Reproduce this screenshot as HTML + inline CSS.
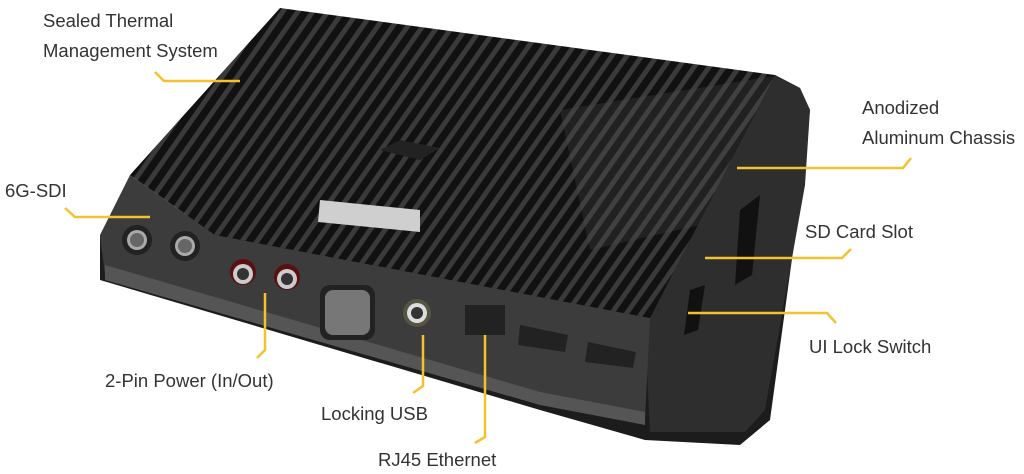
<!DOCTYPE html>
<html><head><style>
html,body{margin:0;padding:0;background:#fff;width:1024px;height:474px;overflow:hidden}
svg{display:block}
text{font-family:"Liberation Sans",sans-serif;font-size:18.5px;fill:#333}
</style></head><body>
<svg width="1024" height="474" viewBox="0 0 1024 474">
<defs>
<pattern id="fins" patternUnits="userSpaceOnUse" width="15" height="474" patternTransform="skewX(-35)">
<rect width="15" height="474" fill="#111"/>
<rect x="3" width="6" height="474" fill="#3a3a3a"/>
</pattern>
<clipPath id="topc"><polygon points="280,8 775,75 650,318 215,235 130,175"/></clipPath>
</defs>
<polygon points="100,235 100,280 540,410 645,440 740,445 770,420 800,200 810,110 800,88 775,75" fill="#1c1c1c"/>
<polygon points="775,75 800,88 810,110 805,185 765,410 745,432 650,432 645,330 650,318" fill="#2e2e2e"/>
<polygon points="740,210 760,195 752,275 735,285" fill="#111"/>
<polygon points="690,290 705,285 698,330 684,335" fill="#111"/>
<polygon points="130,175 215,235 650,318 645,420 540,400 105,275 100,235" fill="#3c3c3c"/>
<polygon points="105,265 540,392 645,412 645,425 540,405 105,280" fill="#555"/>
<g clip-path="url(#topc)"><rect x="0" y="0" width="1024" height="474" fill="url(#fins)"/>
<polygon points="560,110 780,75 700,225 590,250" fill="#555" opacity="0.25"/></g>
<polygon points="380,150 400,140 440,148 420,160" fill="#222"/>
<polygon points="320,200 420,210 420,232 318,222" fill="#cfcfcf"/>
<circle cx="137" cy="240" r="15" fill="#222"/><circle cx="137" cy="240" r="10" fill="#aaa"/><circle cx="137" cy="240" r="7" fill="#666"/>
<circle cx="185" cy="246" r="15" fill="#222"/><circle cx="185" cy="246" r="10" fill="#aaa"/><circle cx="185" cy="246" r="7" fill="#666"/>
<circle cx="243" cy="272" r="13" fill="#5a1010"/><circle cx="243" cy="274" r="10" fill="#ccc"/><circle cx="243" cy="274" r="6" fill="#333"/>
<circle cx="287" cy="277" r="13" fill="#5a1010"/><circle cx="287" cy="279" r="10" fill="#ccc"/><circle cx="287" cy="279" r="6" fill="#333"/>
<rect x="320" y="285" width="55" height="55" rx="10" fill="#222"/><rect x="325" y="290" width="45" height="45" rx="8" fill="#777"/>
<circle cx="417" cy="313" r="14" fill="#554"/><circle cx="417" cy="313" r="10" fill="#ddd"/><circle cx="417" cy="313" r="6" fill="#333"/>
<rect x="465" y="305" width="40" height="30" fill="#222"/>
<polygon points="520,325 568,335 565,352 518,345" fill="#222"/>
<polygon points="588,342 636,352 633,368 585,362" fill="#222"/>
<g fill="none" stroke="#f2c230" stroke-width="2.5">
<polyline points="155,72 164,81 240,81"/>
<polyline points="65,208 75,217 150,217"/>
<polyline points="257,358 265,350 265,293"/>
<polyline points="413,393 423,386 423,335"/>
<polyline points="475,443 485,437 485,335"/>
<polyline points="737,168 903,168 911,158"/>
<polyline points="705,258 842,258 851,249"/>
<polyline points="688,313 827,313 836,323"/>
</g>
<text x="43" y="27">Sealed Thermal</text>
<text x="43" y="57">Management System</text>
<text x="5" y="197">6G-SDI</text>
<text x="105" y="387">2-Pin Power (In/Out)</text>
<text x="321" y="420">Locking USB</text>
<text x="378" y="466">RJ45 Ethernet</text>
<text x="862" y="114">Anodized</text>
<text x="862" y="144">Aluminum Chassis</text>
<text x="805" y="238">SD Card Slot</text>
<text x="809" y="353">UI Lock Switch</text>
</svg>
</body></html>
